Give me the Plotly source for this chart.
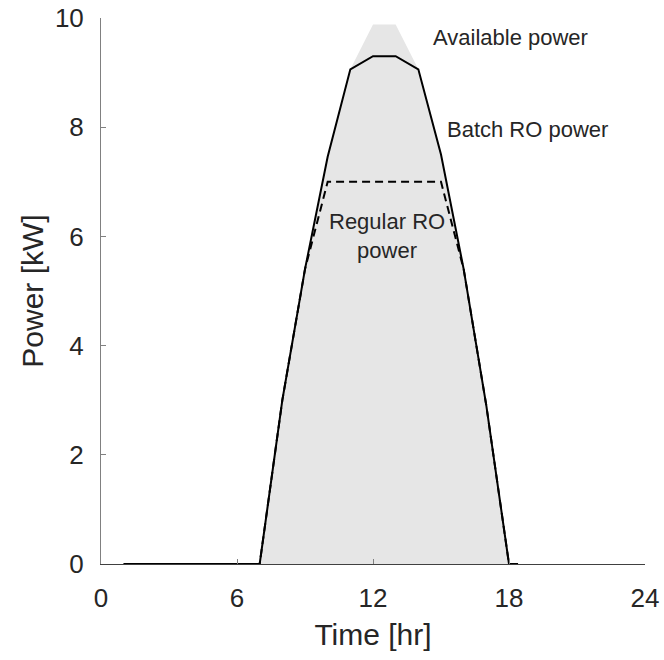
import plotly.graph_objects as go

# Hourly time stamps [hr]
time_hr = [1, 2, 3, 4, 5, 6, 7, 8, 9, 10, 11, 12, 13, 14, 15, 16, 17, 18, 18.4]

# Power profiles [kW]
available_kw = [0, 0, 0, 0, 0, 0, 0, 3.0, 5.4, 7.46, 9.06, 9.88, 9.88, 9.06, 7.5, 5.4, 2.9, 0, 0]
batch_ro_kw = [0, 0, 0, 0, 0, 0, 0, 3.0, 5.4, 7.46, 9.06, 9.3, 9.3, 9.06, 7.5, 5.4, 2.9, 0, 0]
regular_ro_kw = [0, 0, 0, 0, 0, 0, 0, 3.0, 5.4, 7.0, 7.0, 7.0, 7.0, 7.0, 7.0, 5.4, 2.9, 0, 0]

x_ticks = [0, 6, 12, 18, 24]
y_ticks = [0, 2, 4, 6, 8, 10]

FONT = "Liberation Sans, Arial, Helvetica, sans-serif"
TXT = "#262626"

fig = go.Figure()

# Available power shown as a shaded area
fig.add_trace(go.Scatter(
    x=time_hr, y=available_kw, mode="lines", fill="tozeroy",
    fillcolor="#e6e6e6", line=dict(width=0, color="#e6e6e6"),
    hoverinfo="skip", showlegend=False,
))

# Regular RO power (dashed)
fig.add_trace(go.Scatter(
    x=time_hr, y=regular_ro_kw, mode="lines",
    line=dict(color="black", width=2, dash="8px,5px"),
    showlegend=False,
))

# Batch RO power (solid)
fig.add_trace(go.Scatter(
    x=time_hr, y=batch_ro_kw, mode="lines",
    line=dict(color="black", width=2),
    showlegend=False,
))

annot_font = dict(family=FONT, size=22, color=TXT)
fig.add_annotation(x=18.05, y=9.64, text="Available power", showarrow=False, font=annot_font)
fig.add_annotation(x=18.8, y=7.95, text="Batch RO power", showarrow=False, font=annot_font)
fig.add_annotation(x=12.6, y=6.0, text="Regular RO<br>power", showarrow=False, font=annot_font)

fig.update_layout(
    width=664, height=660,
    margin=dict(l=101, r=19, t=18, b=96, autoexpand=False),
    plot_bgcolor="white", paper_bgcolor="white",
    font=dict(family=FONT, color=TXT),
)

fig.update_xaxes(
    range=[0, 24], tickvals=x_ticks, ticktext=[str(v) for v in x_ticks],
    showgrid=False, zeroline=False, automargin=False,
    showline=True, linecolor="#404040", linewidth=1, mirror=False,
    ticks="inside", ticklen=5, tickcolor="#808080", tickwidth=1,
    tickfont=dict(family=FONT, size=26, color=TXT),
    ticklabelstandoff=11,
    title=dict(text="Time [hr]", font=dict(family=FONT, size=30, color=TXT), standoff=11),
)
fig.update_yaxes(
    range=[0, 10], tickvals=y_ticks, ticktext=[str(v) for v in y_ticks],
    showgrid=False, zeroline=False, automargin=False,
    showline=True, linecolor="#808080", linewidth=1, mirror=False,
    ticks="inside", ticklen=5, tickcolor="#808080", tickwidth=1,
    tickfont=dict(family=FONT, size=26, color=TXT),
    ticklabelstandoff=11,
    title=dict(text="Power [kW]", font=dict(family=FONT, size=30, color=TXT), standoff=2),
)

fig.write_html("out.html")
